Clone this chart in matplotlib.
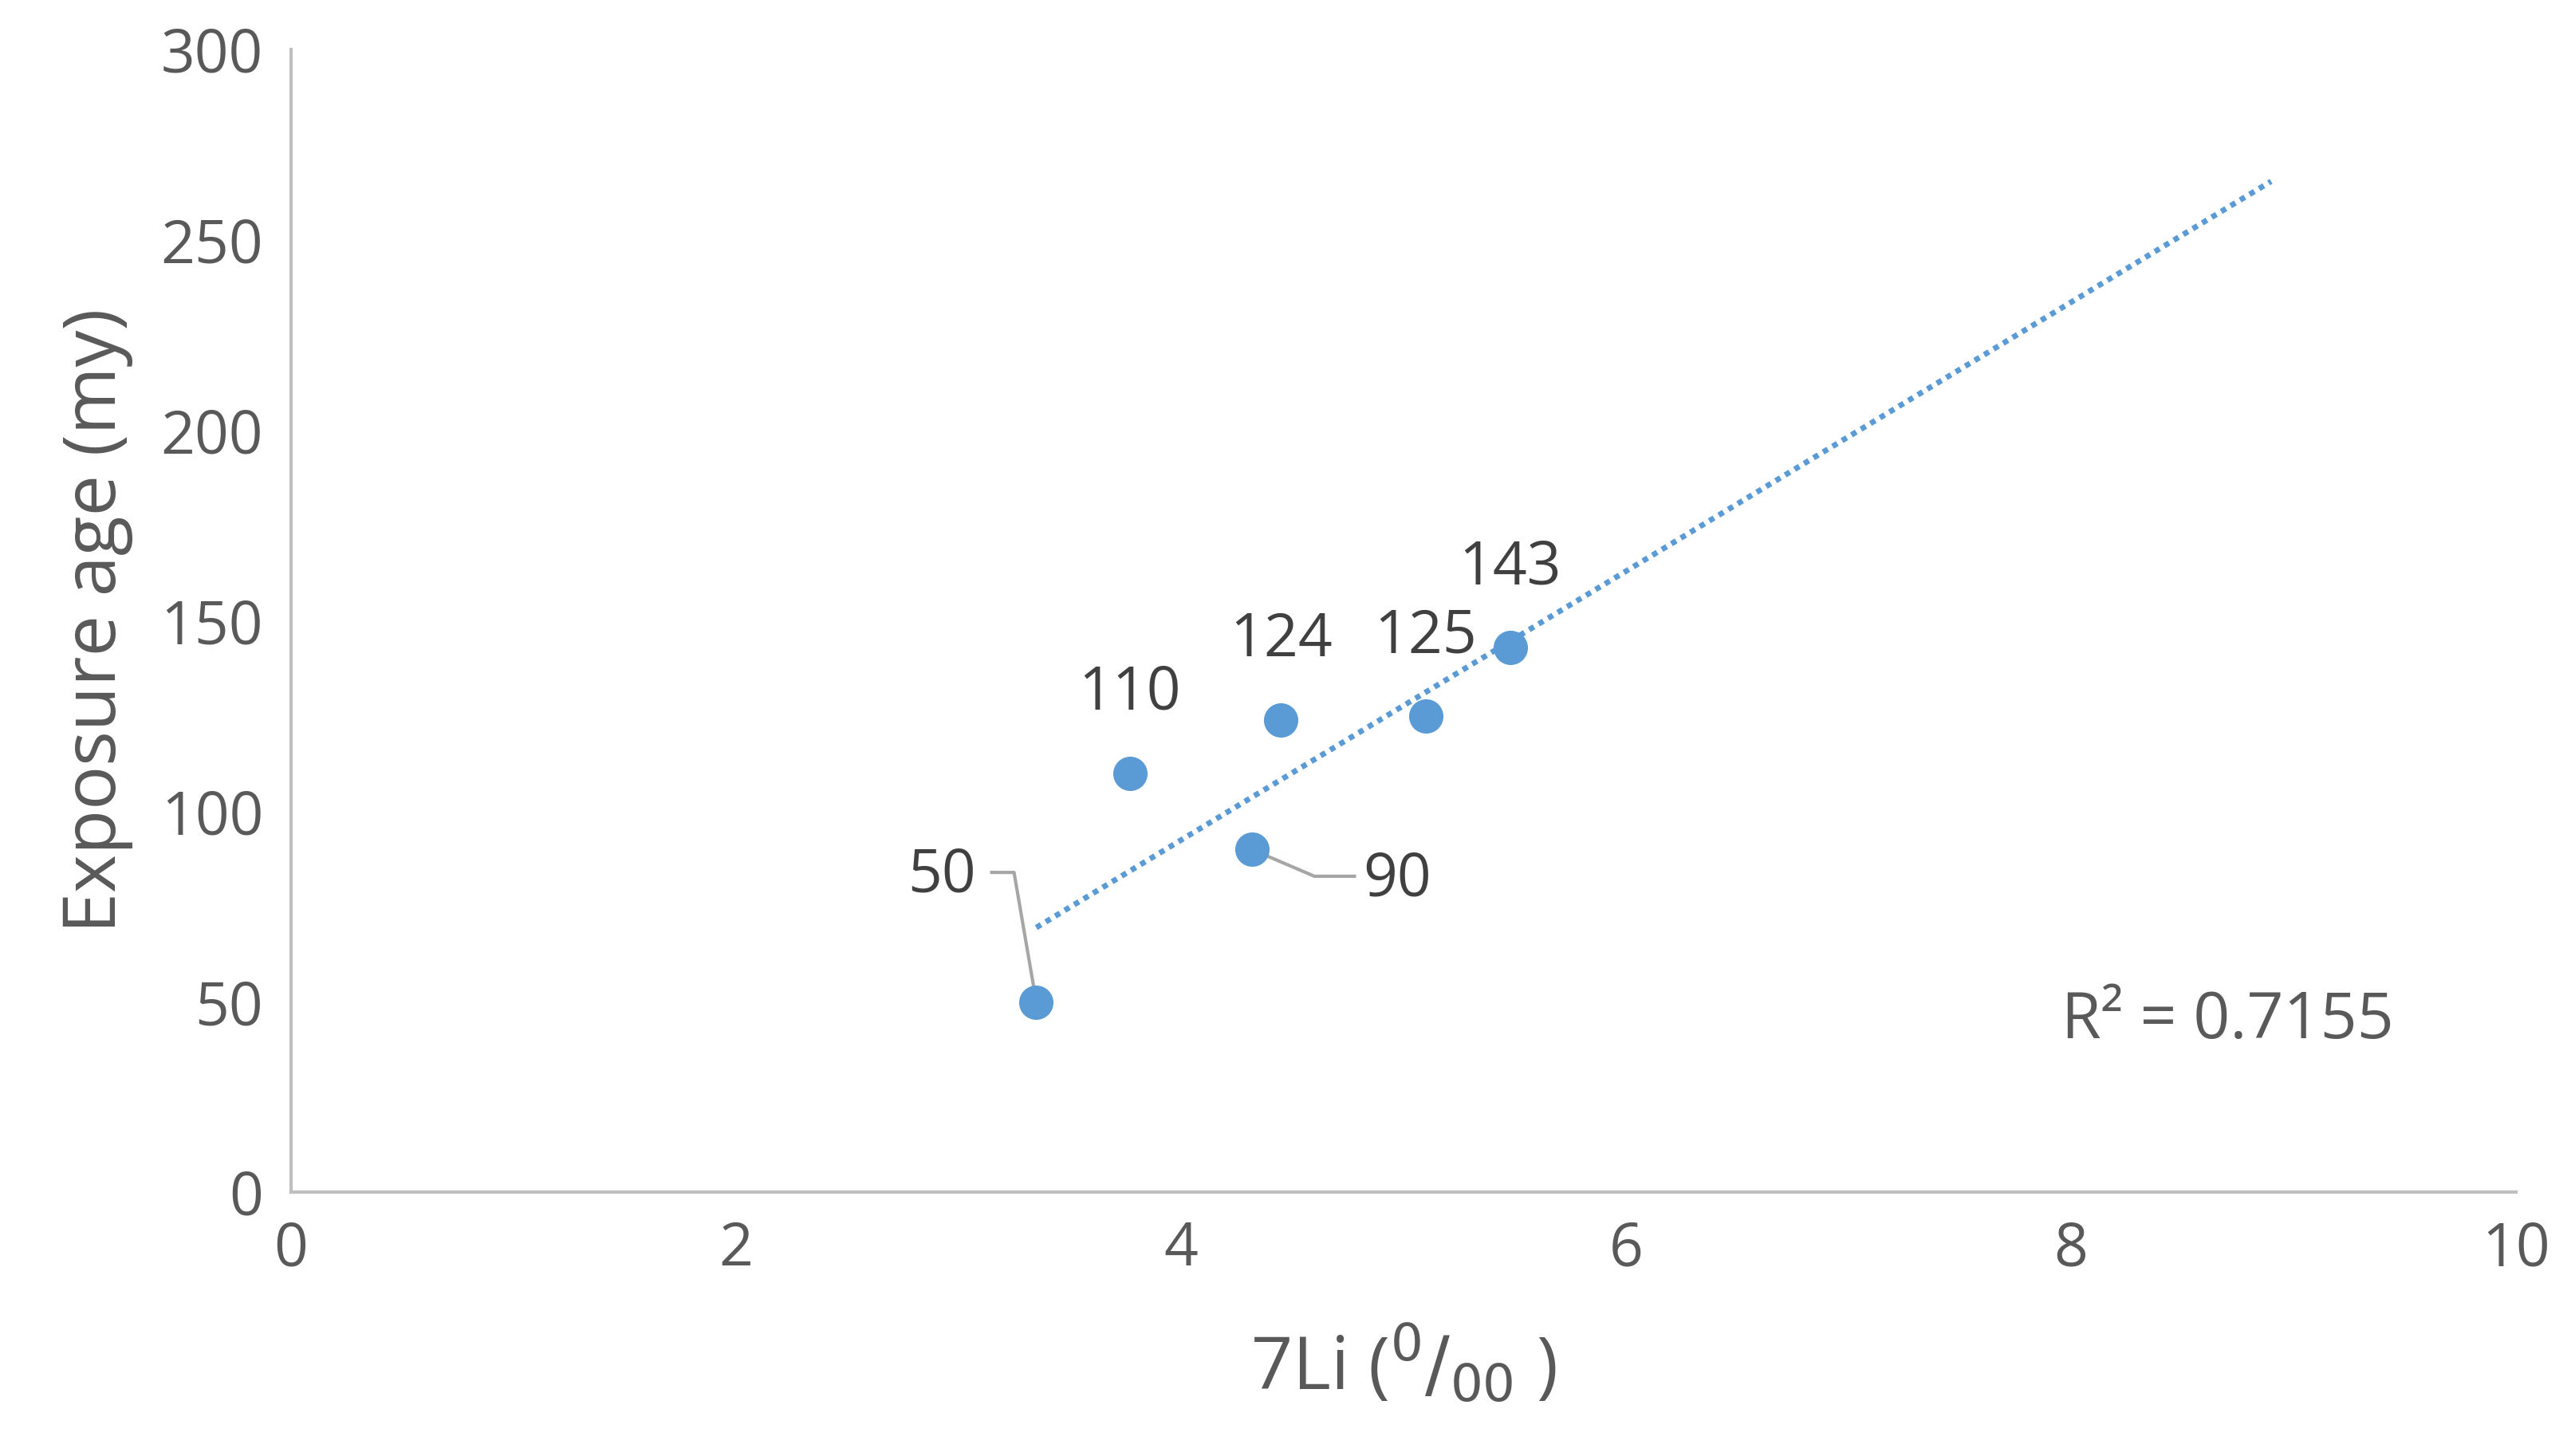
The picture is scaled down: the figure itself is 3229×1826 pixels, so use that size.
import matplotlib
matplotlib.use("Agg")
import matplotlib.pyplot as plt
import numpy as np

li7 = [3.35, 3.77, 4.32, 4.45, 5.10, 5.48]
age = [50, 110, 90, 124, 125, 143]
labels = ["50", "110", "90", "124", "125", "143"]
xticks = [0, 2, 4, 6, 8, 10]
yticks = [0, 50, 100, 150, 200, 250, 300]
r2_text = "R² = 0.7155"

plt.rcParams['font.family'] = ['Open Sans', 'DejaVu Sans']
txt = '#595959'
fig = plt.figure(figsize=(32.29, 18.26), dpi=100)
ax = fig.add_axes([0.113, 0.181, 0.864, 0.785])

x = np.array(li7); y = np.array(age)
m, b = np.polyfit(x, y, 1)
xt = np.array([x.min(), 8.9])
ax.plot(xt, m * xt + b, linestyle=(0, (1, 1)), color='#5b9bd5', lw=5, zorder=2)
ax.plot(x, y, 'o', color='#5b9bd5', ms=30, zorder=3)

fs = 54
for xi, yi, lab in zip(li7, age, labels):
    if lab not in ("50", "90"):
        ax.text(xi, yi + 13, lab, ha='center', va='bottom', fontsize=fs, color='#404040')
# leader-line labels
ax.plot([3.15, 3.25, li7[0]], [84, 84, age[0]], color='#a6a6a6', lw=3, zorder=1)
ax.text(3.08, 83, "50", ha='right', va='center', fontsize=fs, color='#404040')
ax.plot([li7[2], 4.6, 4.78], [age[2], 83, 83], color='#a6a6a6', lw=3, zorder=1)
ax.text(4.82, 82, "90", ha='left', va='center', fontsize=fs, color='#404040')

ax.text(9.45, 45, r2_text, ha='right', va='center', fontsize=58, color=txt)

ax.set_xlim(0, 10); ax.set_ylim(0, 300)
ax.set_xticks(xticks); ax.set_yticks(yticks)
ax.tick_params(length=0, labelsize=fs, colors=txt, pad=25)
for s in ['top', 'right']:
    ax.spines[s].set_visible(False)
for s in ['left', 'bottom']:
    ax.spines[s].set_color('#bfbfbf'); ax.spines[s].set_linewidth(3)
ax.set_xlabel(r'7Li ($^{0}/_{00}$ )', fontsize=66, color=txt, labelpad=40)
ax.set_ylabel('Exposure age (my)', fontsize=66, color=txt, labelpad=25)
fig.savefig('out.png', dpi=100)
